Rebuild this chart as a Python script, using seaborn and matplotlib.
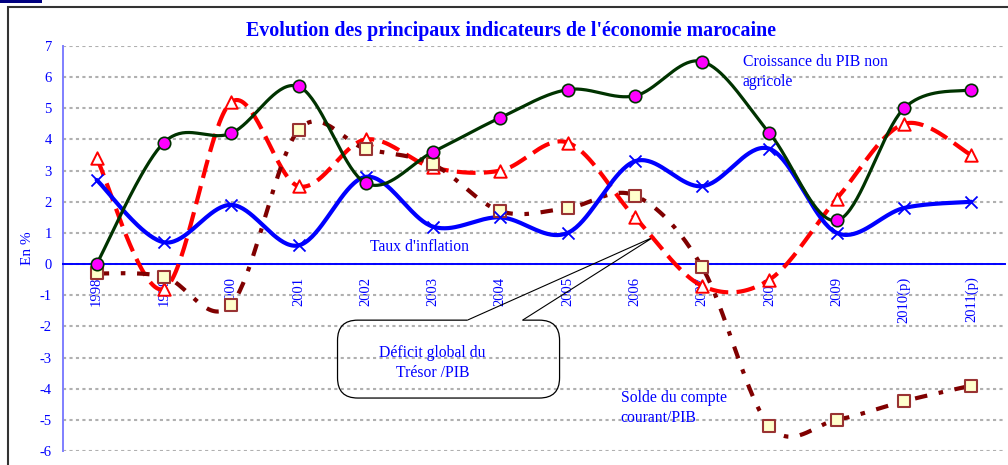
import numpy as np
import pandas as pd
import matplotlib
matplotlib.use("Agg")
import matplotlib.pyplot as plt
import seaborn as sns
from matplotlib.patches import FancyBboxPatch, Rectangle

# ---------------- data ----------------
years = ['1998', '1999', '2000', '2001', '2002', '2003', '2004', '2005',
         '2006', '2007', '2008', '2009', '2010(p)', '2011(p)']
croissance_pib_na = [0.0, 3.9, 4.2, 5.7, 2.6, 3.6, 4.7, 5.6, 5.4, 6.5, 4.2, 1.4, 5.0, 5.6]
taux_inflation = [2.7, 0.7, 1.9, 0.6, 2.8, 1.2, 1.5, 1.0, 3.3, 2.5, 3.7, 1.0, 1.8, 2.0]
deficit_tresor = [3.4, -0.8, 5.2, 2.5, 4.0, 3.1, 3.0, 3.9, 1.5, -0.7, -0.5, 2.1, 4.5, 3.5]
solde_courant = [-0.3, -0.4, -1.3, 4.3, 3.7, 3.2, 1.7, 1.8, 2.2, -0.1, -5.2, -5.0, -4.4, -3.9]

title = "Evolution des principaux indicateurs de l'économie marocaine"
ylabel = "En %"


def smooth(xv, yv, n=40):
    """Catmull-Rom style Bezier smoothing (like spreadsheet smoothed lines)."""
    xv = np.asarray(xv, float)
    yv = np.asarray(yv, float)
    N = len(yv)
    xs, ys = [], []
    for i in range(N - 1):
        i0 = i - 1 if i > 0 else i
        i3 = i + 2 if i + 2 < N else i + 1
        t = np.linspace(0, 1, n, endpoint=(i == N - 2))
        out = []
        for v in (xv, yv):
            p0, p1, p2, p3 = v[i0], v[i], v[i + 1], v[i3]
            c1 = p1 + (p2 - p0) / 6.0
            c2 = p2 - (p3 - p1) / 6.0
            out.append((1 - t) ** 3 * p1 + 3 * (1 - t) ** 2 * t * c1
                       + 3 * (1 - t) * t ** 2 * c2 + t ** 3 * p2)
        xs.append(out[0])
        ys.append(out[1])
    return np.concatenate(xs), np.concatenate(ys)


sns.set_style("white")
plt.rcParams['font.family'] = ['Liberation Serif', 'DejaVu Serif']
plt.rcParams['axes.unicode_minus'] = False

fig = plt.figure(figsize=(10.08, 4.65), dpi=100)
ax = fig.add_axes([63 / 1008, 1 - 451 / 465, (1005 - 63) / 1008, (451 - 46) / 465])

pos = np.arange(len(years))

series = [
    # values, line color, lw, dashes, zorder
    (deficit_tresor, '#ff0000', 3.0, (0, (4.5, 2.0)), 3),
    (solde_courant, '#800000', 3.0, (0, (3.0, 2.8, 1.1, 2.8)), 4),
    (taux_inflation, '#0000ff', 3.0, '-', 5),
    (croissance_pib_na, '#003300', 2.3, '-', 6),
]
for vals, col, lw, ls, z in series:
    sx, sy = smooth(pos, vals)
    df = pd.DataFrame({'x': sx, 'y': sy})
    sns.lineplot(data=df, x='x', y='y', ax=ax, sort=False, estimator=None,
                 color=col, linewidth=lw, zorder=z)
    ln = ax.lines[-1]
    ln.set_linestyle(ls)
    ln.set_zorder(z)

# markers
sns.scatterplot(x=pos, y=deficit_tresor, ax=ax, marker='^', s=80,
                color='white', edgecolor='#ff0000', linewidth=1.4, zorder=7)
sns.scatterplot(x=pos, y=solde_courant, ax=ax, marker='s', s=80,
                color='#ffffcc', edgecolor='#993333', linewidth=1.5, zorder=8)
sns.scatterplot(x=pos, y=taux_inflation, ax=ax, marker='x', s=75,
                color='#0000ff', linewidth=1.3, zorder=9)
sns.scatterplot(x=pos, y=croissance_pib_na, ax=ax, marker='o', s=80,
                color='#ff00ff', edgecolor='#003300', linewidth=1.2, zorder=10)

# axes
ax.set_xlim(-0.5, len(years) - 0.5)
ax.set_ylim(-6, 7)
ax.set_yticks(range(-6, 8))
ax.set_xticks(pos)
ax.set_xticks(np.arange(len(years) + 1) - 0.5, minor=True)
ax.set_xticklabels(years)
ax.tick_params(axis='x', which='major', length=0, pad=9, labelrotation=90,
               labelcolor='blue', labelsize=10.5)
ax.tick_params(axis='x', which='minor', length=5, width=1.2, color='blue', direction='out')
ax.tick_params(axis='y', direction='out', length=5, width=1.2, color='#7f7fff',
               labelcolor='blue', labelsize=10.5, pad=3)
for lab in ax.get_xticklabels():
    lab.set_rotation(90)
    lab.set_va('top')
    lab.set_ha('center')
ax.set_xlabel('')
ax.set_ylabel(ylabel, color='blue', fontsize=11, labelpad=4)

for s in ('top', 'right'):
    ax.spines[s].set_visible(False)
ax.spines['bottom'].set_position(('data', 0))
ax.spines['bottom'].set_color('blue')
ax.spines['bottom'].set_linewidth(1.4)
ax.spines['left'].set_color('#7f7fff')
ax.spines['left'].set_linewidth(1.4)

ax.yaxis.grid(True, color='#b0b0b0', linestyle=(0, (1.5, 1.6)), linewidth=1.5)
ax.xaxis.grid(False)
ax.set_axisbelow(True)

# annotations
txt = dict(color='blue', fontsize=11.3)
ax.text(9.6, 6.16, "Croissance du PIB non\nagricole", ha='left', va='center',
        linespacing=1.35, **txt)
ax.text(4.06, 0.55, "Taux d'inflation", ha='left', va='center', **txt)
ax.text(7.79, -4.62, "Solde du compte\ncourant/PIB", ha='left', va='center',
        linespacing=1.35, **txt)
ax.text(4.99, -3.18, "Déficit global du\nTrésor /PIB", ha='center', va='center',
        linespacing=1.35, **txt)

# callout box
aspect = (1 / 31.15) / (1 / 67.3)
box = FancyBboxPatch((3.58, -4.30), 6.88 - 3.58, -1.80 + 4.30,
                     boxstyle="round,pad=0,rounding_size=0.3", mutation_aspect=aspect,
                     fill=False, edgecolor='black', linewidth=0.9, zorder=2.6,
                     transform=ax.transData)
ax.add_patch(box)
ax.plot([5.51, 6.33], [-1.80, -1.80], color='white', lw=1.6, zorder=2.7,
        solid_capstyle='butt')
ax.plot([5.51, 8.28, 6.33], [-1.80, 0.87, -1.80], color='black', lw=0.8, zorder=2.8)

# title
fig.text(511 / 1008, 1 - 31 / 465, title, ha='center', va='center',
         color='blue', fontsize=14.4, fontweight='bold')

# outer frame
fig.patches.append(Rectangle((8 / 1008, -0.1), 1.2, 1.1 - 7 / 465, transform=fig.transFigure,
                             fill=False, edgecolor='#333333', linewidth=1.5, zorder=0))
fig.patches.append(Rectangle((0, 1 - 3 / 465), 42 / 1008, 3 / 465, transform=fig.transFigure,
                             facecolor='#000080', edgecolor='none', zorder=0))

fig.savefig("out.png", dpi=100)
